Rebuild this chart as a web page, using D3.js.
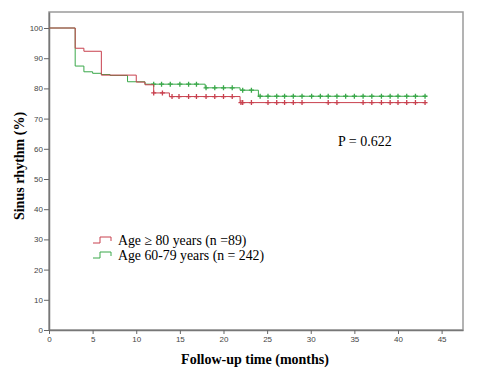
<!DOCTYPE html>
<html>
<head>
<meta charset="utf-8">
<script src="https://cdn.jsdelivr.net/npm/d3@7"></script>
<style>
  body { margin: 0; background: #fff; }
  .tick text { font: 8px "Liberation Sans", Arial, sans-serif; fill: #444; }
  .tick line { stroke: #666; }
</style>
</head>
<body>
<svg width="477" height="388"></svg>
<script>
// Kaplan-Meier steps: [time, survival %]
var oldSteps = [[0, 100], [3.0, 93.3], [4.0, 92.3], [6.0, 84.4], [10.0, 82.1], [11.0, 81.2],
                [12.0, 78.5], [13.8, 77.3], [21.9, 75.3], [43.3, 75.3]];
var youngSteps = [[0, 100], [3.0, 87.4], [4.0, 85.5], [5.0, 85.0], [6.0, 84.6], [7.0, 84.3],
                  [9.0, 82.2], [11.0, 81.4], [17.9, 80.2], [21.9, 79.4], [24.0, 77.4], [43.3, 77.4]];
// censored observations (times)
var oldCensor = [12.0, 13.0, 14.1, 14.9, 16.0, 16.9, 18.0, 19.0, 20.0, 21.0, 22.0, 22.2, 23.2,
                 25.1, 26.1, 27.0, 28.0, 29.0, 32.0, 33.0, 36.0, 37.0, 38.1, 39.1, 40.0, 41.0, 42.0, 43.1];
var youngCensor = [12.0, 12.9, 13.9, 15.0, 16.0, 16.9, 18.0, 19.0, 20.0, 21.0, 22.2, 23.2,
                   24.2, 25.1, 26.1, 27.0, 28.0, 29.0, 30.1, 31.1, 32.0, 33.0, 34.0, 35.0,
                   36.0, 37.0, 38.1, 39.1, 40.0, 41.0, 42.0, 43.1];
var xTicks = [0, 5, 10, 15, 20, 25, 30, 35, 40, 45];
var yTicks = [0, 10, 20, 30, 40, 50, 60, 70, 80, 90, 100];
var labels = ["Age \u2265 80 years (n =89)", "Age 60-79 years (n = 242)"];
var colors = ["#c8404e", "#3aa84a"];

var svg = d3.select("svg");

var x = d3.scaleLinear().domain([0, 47.45]).range([49, 463]);
var y = d3.scaleLinear().domain([0, 105.3]).range([330, 12]);

// frame
svg.append("rect")
   .attr("x", x(0)).attr("y", y(105.3))
   .attr("width", x(47.45) - x(0)).attr("height", y(0) - y(105.3))
   .attr("fill", "none").attr("stroke", "#9a9a9a").attr("stroke-width", 1.5);

var yAxis = svg.append("g")
   .attr("transform", "translate(" + x(0) + ",0)")
   .call(d3.axisLeft(y).tickValues(yTicks).tickSize(5).tickPadding(1).tickSizeOuter(0));
yAxis.select(".domain").attr("stroke", "#777").attr("stroke-width", 1.5);

var xAxis = svg.append("g")
   .attr("transform", "translate(0," + y(0) + ")")
   .call(d3.axisBottom(x).tickValues(xTicks).tickSize(4).tickPadding(2).tickSizeOuter(0));
xAxis.select(".domain").attr("stroke", "#777").attr("stroke-width", 1.5);

var line = d3.line()
   .x(function(d) { return x(d[0]); })
   .y(function(d) { return y(d[1]); })
   .curve(d3.curveStepAfter);

// survival value at time t for a step list
function at(steps, t) {
  var v = steps[0][1];
  steps.forEach(function(s) { if (s[0] <= t) v = s[1]; });
  return v;
}

var groups = [
  { steps: youngSteps, censor: youngCensor, color: colors[1] },
  { steps: oldSteps, censor: oldCensor, color: colors[0] }
];

groups.forEach(function(g) {
  svg.append("path")
     .attr("d", line(g.steps))
     .attr("fill", "none")
     .attr("stroke", g.color)
     .attr("stroke-width", 1);

  svg.append("g").selectAll("path")
     .data(g.censor)
     .enter().append("path")
     .attr("d", function(t) {
        var cx = x(t), cy = y(at(g.steps, t));
        return "M" + (cx - 2.5) + "," + cy + "H" + (cx + 2.5) + "M" + cx + "," + (cy - 2.5) + "V" + (cy + 2.5);
     })
     .attr("stroke", g.color)
     .attr("stroke-width", 1.3);
});

// axis titles
svg.append("text")
   .attr("x", 255).attr("y", 364)
   .attr("text-anchor", "middle")
   .style("font", "bold 14px 'Liberation Serif', 'Times New Roman', serif")
   .text("Follow-up time (months)");

svg.append("text")
   .attr("transform", "translate(24,166) rotate(-90)")
   .attr("text-anchor", "middle")
   .style("font", "bold 14px 'Liberation Serif', 'Times New Roman', serif")
   .text("Sinus rhythm (%)");

svg.append("text")
   .attr("x", 338).attr("y", 146)
   .style("font", "14px 'Liberation Serif', 'Times New Roman', serif")
   .text("P = 0.622");

// legend
var legend = svg.append("g").attr("transform", "translate(93,240)");
labels.forEach(function(l, i) {
  var ly = i * 15;
  legend.append("path")
     .attr("d", "M0," + (ly + 3) + "H7V" + (ly - 3) + "H18V" + (ly + 1))
     .attr("fill", "none")
     .attr("stroke", colors[i])
     .attr("stroke-width", 1);
  legend.append("text")
     .attr("x", 25).attr("y", ly + 5)
     .style("font", "13.8px 'Liberation Serif', 'Times New Roman', serif")
     .text(l);
});
</script>
</body>
</html>
